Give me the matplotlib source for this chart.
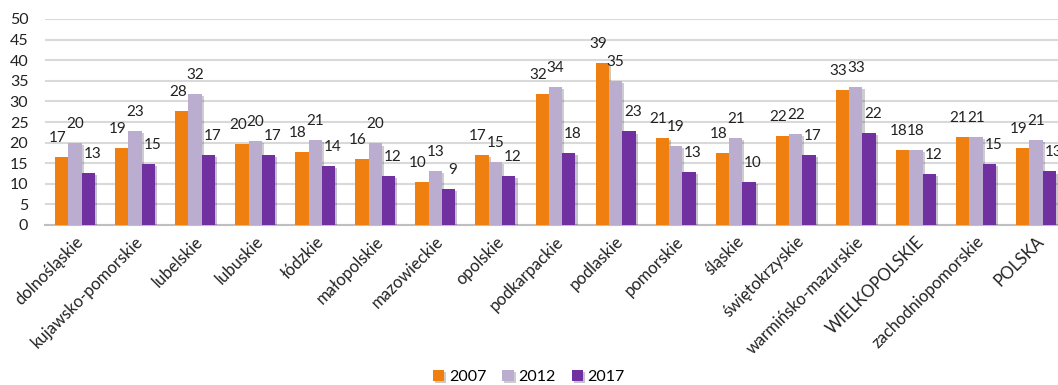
import matplotlib
matplotlib.use("Agg")
import matplotlib.pyplot as plt
import matplotlib.patheffects as pe
import numpy as np

plt.rcParams['font.family'] = ['Lato', 'DejaVu Sans']

regions = ['dolnośląskie', 'kujawsko-pomorskie', 'lubelskie', 'lubuskie', 'łódzkie',
           'małopolskie', 'mazowieckie', 'opolskie', 'podkarpackie', 'podlaskie',
           'pomorskie', 'śląskie', 'świętokrzyskie', 'warmińsko-mazurskie',
           'WIELKOPOLSKIE', 'zachodniopomorskie', 'POLSKA']
v2007 = [16.6, 18.6, 27.7, 19.7, 17.8, 16.0, 10.4, 16.9, 31.8, 39.4, 21.1, 17.5, 21.6, 32.8, 18.2, 21.4, 18.8]
v2012 = [19.9, 22.9, 31.9, 20.3, 20.6, 19.8, 13.1, 15.2, 33.6, 34.9, 19.2, 21.2, 22.2, 33.4, 18.3, 21.3, 20.6]
v2017 = [12.7, 14.8, 16.9, 16.9, 14.3, 11.8, 8.7, 11.9, 17.5, 22.7, 12.9, 10.4, 16.9, 22.4, 12.3, 14.8, 13.0]
years = ['2007', '2012', '2017']
colors = ['#EF7F0E', '#BAADD0', '#7030A0']

fig = plt.figure(figsize=(10.58, 3.85), dpi=100)
ax = fig.add_axes([45 / 1058, 160 / 385, 1021 / 1058, 206 / 385])

x = np.arange(len(regions))
w = 0.222
shadow = [pe.SimplePatchShadow(offset=(1.5, -1.5), alpha=0.25), pe.Normal()]
for k, (vals, c, lab) in enumerate(zip([v2007, v2012, v2017], colors, years)):
    bars = ax.bar(x + (k - 1) * w, vals, w, color=c, label=lab, zorder=3)
    for b, v in zip(bars, vals):
        b.set_path_effects(shadow)
        ax.annotate(f'{v:.0f}', (b.get_x() + b.get_width() / 2, v),
                    xytext=((k - 1) * 4, 12), textcoords='offset pixels',
                    ha='center', va='bottom', fontsize=11, color='#222222',
                    annotation_clip=False)

ax.set_xlim(-0.5, len(regions) - 0.5)
ax.set_ylim(0, 50)
ax.set_yticks(range(0, 51, 5))
ax.yaxis.grid(True, color='#D9D9D9', linewidth=1.5, zorder=0)
ax.set_axisbelow(True)
for s in ['top', 'right', 'left']:
    ax.spines[s].set_visible(False)
ax.spines['bottom'].set_color('#BFBFBF')
ax.spines['bottom'].set_linewidth(1.5)
ax.tick_params(axis='both', length=0, labelsize=11.5, colors='#222222')
ax.tick_params(axis='y', pad=12)
ax.set_xticks(x)
ax.set_xticklabels(regions, rotation=45, ha='right', va='top',
                   rotation_mode='anchor', fontsize=12)
ax.tick_params(axis='x', pad=6)

fig.legend(loc='lower center', bbox_to_anchor=(0.5, -0.035), ncol=3, frameon=False,
           handlelength=0.7, handleheight=0.7, handletextpad=0.3, columnspacing=1.0,
           fontsize=11.5)

fig.savefig('out.png', dpi=100)
